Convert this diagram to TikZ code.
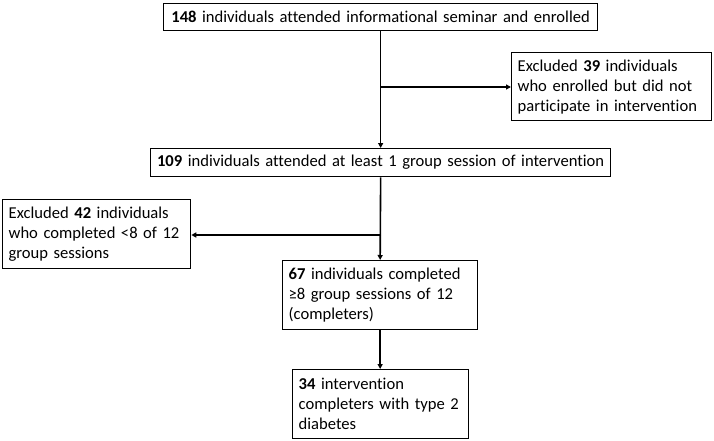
\documentclass[tikz,border=0pt]{standalone}
\usepackage{fontspec}
\setmainfont{Carlito}[Ligatures=NoCommon]
\usetikzlibrary{arrows.meta}
\tikzset{
  flowbox/.style={draw, line width=1.3pt, anchor=north west, inner xsep=6pt, inner ysep=2pt,
    font=\fontsize{16.6}{20}\selectfont},
  flowarrow/.style={line width=1.6pt, -{Triangle[length=5pt,width=5pt]}}
}
\begin{document}
\begin{tikzpicture}[x=1pt,y=1pt]
  \useasboundingbox (0,0) rectangle (714,-441);
  % boxes
  \node[flowbox, align=center, text width=422pt, minimum height=27pt] (enrol) at (163,-3)
    {\textbf{148} individuals attended informational seminar and enrolled};
  \node[flowbox, align=left, text width=188pt, minimum height=68pt] (excla) at (511,-52)
    {Excluded \textbf{39} individuals\\who enrolled but did not\\participate in intervention};
  \node[flowbox, align=center, text width=448pt, minimum height=28pt] (attend) at (150,-148)
    {\textbf{109} individuals attended at least 1 group session of intervention};
  \node[flowbox, align=left, text width=176pt, minimum height=69pt] (exclb) at (2,-199)
    {Excluded \textbf{42} individuals\\who completed <8 of 12\\group sessions};
  \node[flowbox, align=left, text width=183pt, minimum height=69pt] (compl) at (282,-260)
    {\textbf{67} individuals completed\\≥8 group sessions of 12\\(completers)};
  \node[flowbox, align=left, text width=164pt, minimum height=69pt] (diab) at (292,-369)
    {\textbf{34} intervention\\completers with type 2\\diabetes};
  % connectors
  \coordinate (ba) at (381,-87);
  \coordinate (bb) at (381,-235);
  \draw[flowarrow] (enrol.south) -- (attend.north);
  \draw[flowarrow] (ba) -- (ba -| excla.west);
  \draw[flowarrow] (attend.south) -- (compl.north);
  \draw[flowarrow] (bb) -- (bb -| exclb.east);
  \draw[flowarrow] (compl.south) -- (compl.south |- diab.north);
\end{tikzpicture}
\end{document}
